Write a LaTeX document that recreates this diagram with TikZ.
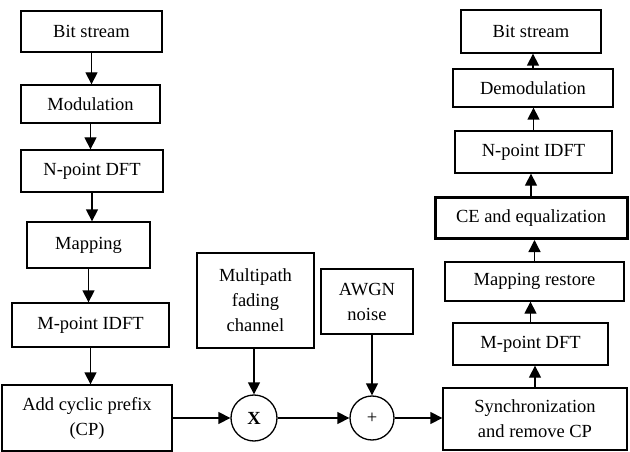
\documentclass[tikz,border=0pt]{standalone}
\usepackage{fontspec}
\setmainfont{Liberation Serif}
\usetikzlibrary{arrows.meta, positioning}

\tikzset{
    blk/.style={draw, line width=1.3pt, align=center, inner sep=0pt,
        font=\fontsize{18.5}{25}\selectfont},
    junc/.style={draw, circle, line width=1.3pt, minimum size=46pt, inner sep=0pt,
        font=\fontsize{18.5}{25}\selectfont},
    flow/.style={line width=1.3pt, -{Triangle[length=12pt, width=12pt]}}
}

\begin{document}
\begin{tikzpicture}[x=1pt, y=-1pt]
    \useasboundingbox (0, 0) rectangle (630, 452);

    % Transmitter
    \node[blk, minimum width=141pt, minimum height=41pt] (bsIn) at (91.5, 31.5) {Bit stream};
    \node[blk, minimum width=139pt, minimum height=38pt] (mod) at (90.5, 104) {Modulation};
    \node[blk, minimum width=142pt, minimum height=42pt] (ndft) at (92, 171) {N-point DFT};
    \node[blk, minimum width=123pt, minimum height=46pt] (map) at (88.5, 245) {Mapping};
    \node[blk, minimum width=157pt, minimum height=44pt] (midft) at (90.5, 325) {M-point IDFT};
    \node[blk, minimum width=170pt, minimum height=66pt] (addcp) at (87, 418) {Add cyclic prefix\\(CP)};

    % Channel
    \node[junc] (mul) at (254, 418) {\textbf{X}};
    \node[junc, minimum size=44pt] (sum) at (372, 418) {+};
    \node[blk, minimum width=117pt, minimum height=95pt] (chan) at (255.5, 300.5) {Multipath\\fading\\channel};
    \node[blk, minimum width=92pt, minimum height=65pt] (awgn) at (367, 301.5) {AWGN\\noise};

    % Receiver
    \node[blk, minimum width=184pt, minimum height=62pt] (sync) at (535, 419) {Synchronization\\and remove CP};
    \node[blk, minimum width=155pt, minimum height=42pt] (mdft) at (530.5, 344) {M-point DFT};
    \node[blk, minimum width=179pt, minimum height=39pt] (maprest) at (534.5, 281.5) {Mapping restore};
    \node[blk, line width=3pt, minimum width=192pt, minimum height=41pt] (ce) at (531, 218) {CE and equalization};
    \node[blk, minimum width=157pt, minimum height=42pt] (nidft) at (533.5, 152) {N-point IDFT};
    \node[blk, minimum width=160pt, minimum height=38pt] (demod) at (533, 88) {Demodulation};
    \node[blk, minimum width=140pt, minimum height=43pt] (bsOut) at (531, 31.5) {Bit stream};

    % Arrows
    \foreach \a/\b in {bsIn/mod, mod/ndft, ndft/map, map/midft, midft/addcp}
        \draw[flow] (\a.south) -- (\a.south |- \b.north);
    \foreach \a/\b in {sync/mdft, mdft/maprest, maprest/ce, ce/nidft, nidft/demod, demod/bsOut}
        \draw[flow] (\a.north) -- (\a.north |- \b.south);
    \draw[flow] (addcp.east |- mul.west) -- (mul.west);
    \draw[flow] (mul.east) -- (sum.west);
    \draw[flow] (sum.east) -- (sum.east -| sync.west);
    \draw[flow] (mul.north |- chan.south) -- (mul.north);
    \draw[flow] (sum.north |- awgn.south) -- (sum.north);
\end{tikzpicture}
\end{document}
